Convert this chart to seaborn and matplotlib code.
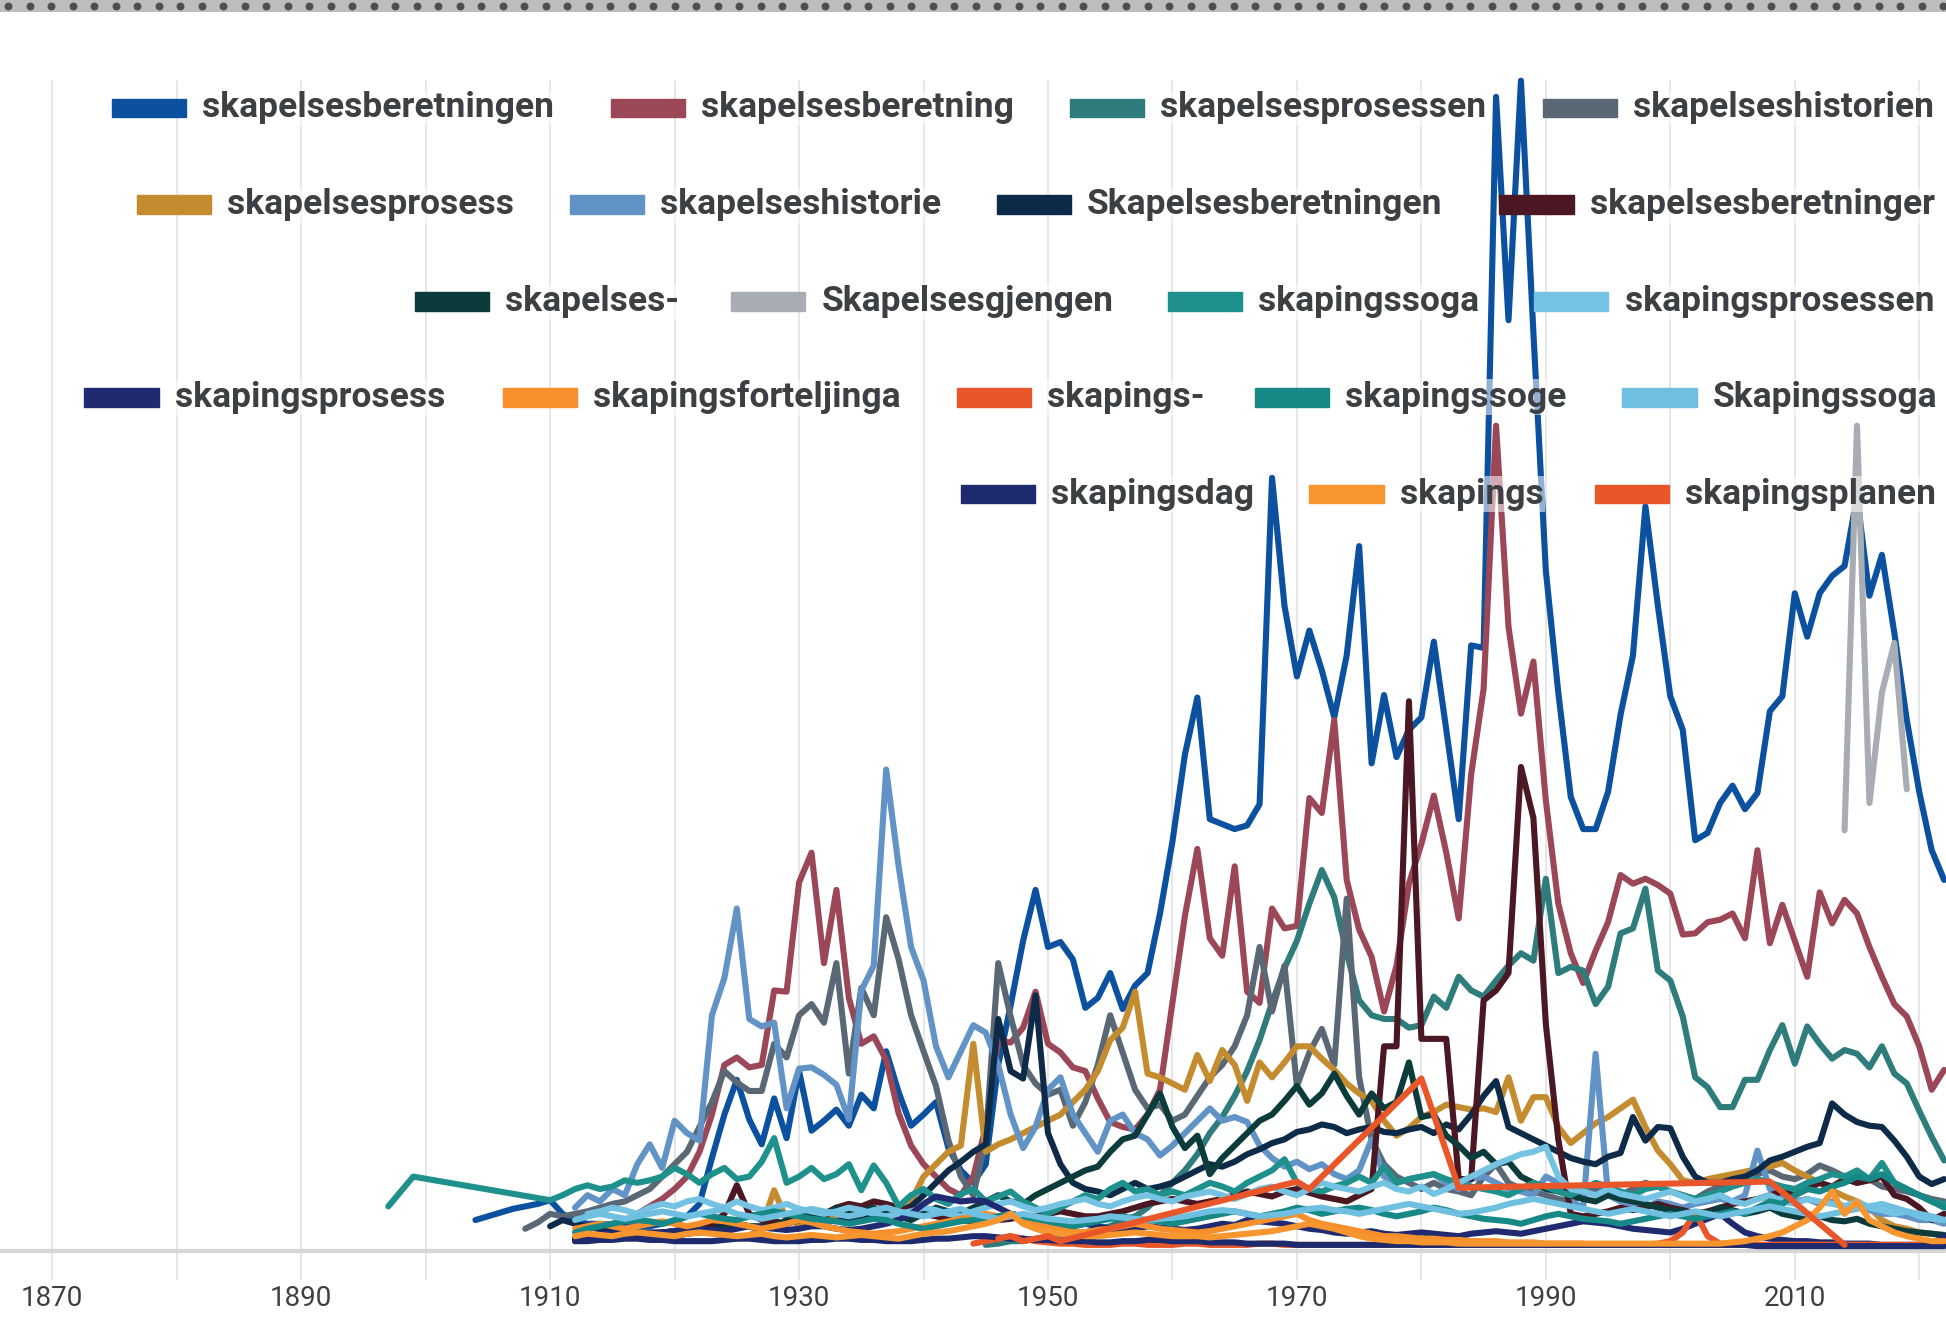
import numpy as np
import pandas as pd
import matplotlib
matplotlib.use("Agg")
import matplotlib.pyplot as plt
import seaborn as sns

# ---- data (relative frequency index) ----
beretningen_years = list(range(1904, 2023))
beretningen = [25, 28, 31, 34, 36, 38, 41, 30, 24, 22,
               22, 21, 20, 20, 20, 22, 24, 28, 38, 75,
               110, 138, 106, 86, 123, 91, 145, 97, 105, 114,
               101, 126, 115, 161, 128, 101, 110, 120, 83, 65,
               55, 70, 150, 198, 250, 291, 245, 249, 235, 196,
               204, 224, 195, 214, 224, 272, 330, 400, 446, 348,
               344, 340, 343, 360, 623, 520, 463, 500, 468, 430,
               480, 568, 393, 448, 398, 420, 430, 491, 420, 348,
               488, 486, 930, 750, 943, 740, 548, 450, 366, 340,
               340, 370, 432, 480, 600, 520, 447, 420, 331, 337,
               361, 375, 356, 369, 435, 447, 530, 495, 530, 544,
               552, 608, 528, 561, 498, 428, 370, 323, 299]

beretning_years = list(range(1912, 2023))
beretning = [10, 18, 20, 22, 25, 30, 36, 42, 50, 60,
             80, 110, 150, 156, 148, 150, 210, 209, 297, 321,
             232, 291, 204, 167, 173, 154, 111, 85, 70, 60,
             50, 45, 60, 100, 170, 168, 180, 209, 167, 160,
             148, 145, 123, 104, 100, 98, 110, 130, 200, 270,
             324, 252, 238, 310, 209, 200, 276, 260, 262, 365,
             353, 428, 299, 259, 237, 193, 230, 296, 328, 367,
             321, 268, 384, 453, 665, 503, 433, 475, 363, 280,
             240, 216, 242, 265, 303, 296, 300, 295, 288, 255,
             256, 265, 267, 272, 252, 323, 248, 279, 250, 221,
             289, 264, 283, 272, 245, 221, 199, 189, 165, 130,
             146]

prosessen_years = list(range(1945, 2023))
prosessen = [5, 6, 8, 8, 10, 10, 12, 14, 15, 18,
             20, 25, 28, 35, 45, 55, 65, 78, 95, 108,
             125, 145, 170, 200, 228, 250, 280, 307, 285, 240,
             202, 190, 187, 187, 180, 182, 205, 196, 221, 210,
             205, 218, 230, 240, 234, 300, 224, 229, 226, 199,
             213, 256, 260, 292, 226, 218, 189, 140, 132, 116,
             116, 138, 138, 162, 182, 151, 181, 167, 155, 162,
             159, 148, 165, 143, 135, 113, 92, 73]

historien_years = list(range(1908, 2023))
historien = [18, 23, 30, 28, 30, 32, 35, 38, 40, 45,
             50, 60, 70, 80, 100, 120, 145, 136, 129, 129,
             167, 156, 190, 199, 184, 232, 143, 212, 190, 269,
             235, 190, 161, 133, 89, 60, 45, 90, 232, 189,
             150, 135, 126, 130, 101, 120, 150, 190, 160, 130,
             115, 118, 105, 110, 125, 140, 150, 165, 190, 245,
             193, 230, 133, 160, 179, 150, 284, 140, 90, 70,
             60, 55, 50, 55, 50, 48, 45, 60, 70, 55,
             50, 48, 45, 42, 40, 45, 50, 48, 45, 50,
             55, 52, 48, 45, 42, 48, 52, 55, 58, 62,
             65, 60, 58, 62, 69, 65, 60, 55, 58, 52,
             50, 48, 45, 42, 40]

prosess_years = list(range(1925, 2023))
prosess = [10, 12, 20, 49, 25, 22, 25, 30, 28, 25,
           30, 32, 30, 35, 40, 60, 70, 80, 85, 167,
           80, 86, 90, 95, 100, 105, 110, 120, 130, 145,
           170, 180, 209, 143, 140, 135, 130, 158, 137, 162,
           150, 121, 152, 140, 152, 165, 165, 155, 146, 135,
           127, 121, 105, 93, 99, 108, 112, 118, 116, 114,
           115, 112, 140, 105, 124, 124, 100, 87, 95, 103,
           108, 115, 122, 100, 81, 70, 57, 55, 58, 60,
           62, 64, 66, 68, 71, 65, 60, 55, 49, 44,
           40, 35, 25, 20, 18, 15, 14, 12]

historie_years = list(range(1912, 2023))
historie = [35, 45, 40, 50, 45, 70, 86, 67, 105, 95,
            89, 190, 220, 276, 187, 181, 184, 115, 147, 148,
            142, 134, 106, 210, 230, 388, 310, 245, 218, 165,
            140, 161, 182, 176, 150, 110, 83, 100, 130, 140,
            110, 95, 80, 105, 110, 95, 90, 77, 85, 95,
            105, 115, 105, 108, 104, 85, 75, 68, 72, 66,
            70, 62, 58, 65, 90, 60, 55, 58, 60, 62,
            55, 50, 58, 60, 55, 50, 48, 45, 60, 55,
            40, 35, 159, 45, 40, 38, 35, 40, 38, 35,
            38, 40, 42, 40, 45, 81, 50, 45, 40, 42,
            38, 40, 36, 35, 33, 30, 30, 28, 25, 25,
            22]

cap_beretningen_years = list(range(1910, 2023))
cap_beretningen = [20, 25, 22, 20, 18, 16, 15, 15, 15, 15,
                   16, 18, 20, 20, 22, 22, 20, 20, 22, 22,
                   25, 24, 25, 24, 26, 25, 28, 30, 32, 36,
                   45, 55, 65, 72, 80, 86, 187, 145, 139, 206,
                   95, 70, 55, 50, 48, 45, 50, 55, 50, 52,
                   55, 60, 65, 70, 68, 72, 78, 82, 87, 90,
                   96, 98, 102, 100, 95, 98, 100, 96, 95, 98,
                   100, 95, 102, 98, 110, 125, 137, 100, 95, 90,
                   85, 80, 75, 72, 70, 76, 79, 108, 89, 100,
                   99, 76, 60, 55, 55, 58, 60, 65, 73, 76,
                   80, 84, 87, 119, 110, 104, 101, 100, 89, 76,
                   60, 54, 58]

beretninger_years = list(range(1912, 2023))
beretninger = [8, 10, 12, 12, 12, 13, 14, 15, 16, 18,
               20, 22, 30, 53, 30, 25, 24, 22, 25, 28,
               30, 35, 38, 36, 40, 38, 35, 33, 30, 28,
               26, 25, 24, 24, 25, 26, 28, 28, 30, 32,
               30, 28, 28, 30, 32, 35, 38, 40, 42, 40,
               38, 40, 42, 45, 48, 46, 44, 48, 50, 47,
               44, 42, 40, 45, 50, 165, 165, 443, 171, 171,
               171, 58, 58, 202, 210, 224, 390, 349, 183, 90,
               30, 28, 30, 32, 35, 33, 35, 38, 35, 33,
               30, 32, 35, 38, 40, 42, 45, 48, 45, 50,
               55, 52, 58, 55, 57, 60, 45, 42, 35, 25,
               30]

bindestrek_years = list(range(1912, 2023))
bindestrek = [10, 12, 12, 12, 12, 12, 12, 12, 12, 14,
              15, 16, 18, 22, 20, 18, 20, 25, 28, 30,
              28, 35, 30, 32, 35, 30, 28, 25, 30, 35,
              32, 30, 35, 40, 45, 40, 38, 45, 50, 55,
              60, 65, 68, 80, 90, 93, 110, 127, 100, 83,
              93, 62, 75, 85, 95, 105, 110, 121, 133, 118,
              127, 143, 125, 110, 127, 115, 120, 152, 108, 110,
              93, 85, 75, 80, 70, 72, 60, 55, 50, 48,
              45, 42, 40, 45, 42, 40, 38, 35, 33, 32,
              30, 31, 35, 33, 30, 32, 35, 30, 28, 26,
              28, 25, 24, 26, 22, 20, 18, 16, 15, 14,
              13]

gjengen_years = [2014, 2015, 2016, 2017, 2018, 2019]
gjengen = [339, 665, 361, 450, 490, 372]

soga_years = [1897, 1899] + list(range(1910, 2023))
soga = [36, 60,
        41, 45, 50, 53, 50, 52, 57, 55, 57, 60,
        67, 62, 55, 62, 67, 58, 60, 72, 91, 55,
        60, 67, 58, 62, 70, 49, 69, 55, 36, 45,
        50, 42, 38, 46, 50, 40, 44, 48, 40, 35,
        30, 35, 40, 45, 42, 50, 55, 48, 50, 45,
        48, 45, 50, 55, 52, 48, 55, 60, 65, 74,
        55, 50, 48, 52, 55, 60, 55, 68, 55, 58,
        60, 62, 58, 55, 52, 50, 48, 45, 50, 55,
        52, 48, 45, 50, 55, 52, 48, 45, 50, 52,
        48, 45, 42, 45, 48, 52, 55, 58, 55, 52,
        50, 55, 58, 62, 60, 65, 58, 71, 55, 50,
        45, 40, 38]

sk_prosessen_years = list(range(1913, 2023))
sk_prosessen = [30, 32, 35, 33, 30, 35, 38, 36, 40, 42,
                38, 35, 40, 36, 33, 35, 38, 34, 32, 30,
                32, 35, 33, 30, 28, 30, 32, 35, 33, 30,
                28, 32, 35, 38, 40, 36, 33, 35, 38, 40,
                42, 38, 36, 40, 43, 45, 42, 40, 44, 46,
                48, 45, 42, 46, 50, 52, 48, 45, 50, 55,
                52, 50, 48, 52, 55, 50, 48, 52, 46, 50,
                55, 60, 65, 70, 74, 78, 80, 84, 60, 50,
                48, 45, 50, 46, 44, 42, 45, 48, 44, 40,
                42, 45, 40, 38, 42, 45, 40, 38, 42, 40,
                38, 36, 40, 35, 33, 30, 32, 28, 26, 25]

sk_prosess_years = list(range(1912, 2023))
sk_prosess = [10, 12, 14, 15, 16, 15, 14, 15, 16, 18,
              18, 17, 16, 18, 20, 19, 18, 17, 18, 20,
              20, 18, 17, 18, 20, 22, 25, 30, 38, 44,
              42, 40, 41, 40, 35, 30, 28, 25, 22, 20,
              20, 22, 20, 18, 17, 18, 20, 19, 18, 17,
              18, 20, 22, 21, 25, 24, 23, 22, 20, 18,
              17, 15, 14, 15, 16, 14, 13, 14, 15, 14,
              13, 12, 14, 15, 16, 15, 14, 16, 18, 20,
              22, 24, 23, 22, 20, 18, 17, 16, 15, 18,
              22, 26, 30, 22, 15, 12, 10, 9, 8, 8,
              7, 7, 6, 6, 6, 5, 5, 5, 5, 5, 12]

forteljinga_years = list(range(1912, 2023))
forteljinga = [18, 20, 22, 20, 18, 20, 22, 24, 22, 20,
               22, 25, 24, 22, 20, 18, 20, 22, 25, 23,
               20, 18, 16, 15, 14, 15, 16, 18, 20, 22,
               24, 26, 28, 30, 28, 30, 26, 22, 20, 18,
               16, 15, 17, 18, 20, 22, 20, 18, 17, 16,
               15, 16, 18, 20, 22, 24, 26, 28, 30, 25,
               22, 20, 18, 16, 14, 12, 12, 11, 10, 10,
               9, 9, 8, 8, 8, 7, 7, 7, 6, 6,
               6, 6, 5, 5, 5, 5, 5, 5, 5, 5,
               5, 5, 5, 5, 5, 5, 5, 5, 5, 5,
               5, 5, 5, 5, 5, 5, 5, 5, 5, 5, 5]

sk_bindestrek_years = list(range(1944, 2023))
sk_bindestrek = [6, 8, 10, 12, 10, 8, 7, 6, 6, 5,
                 5, 5, 6, 6, 5, 5, 5, 6, 6, 5,
                 5, 5, 5, 6, 6, 5, 5, 5, 5, 5,
                 5, 5, 5, 5, 6, 6, 5, 5, 5, 5,
                 5, 5, 5, 5, 5, 5, 5, 5, 5, 5,
                 5, 5, 5, 5, 5, 6, 8, 15, 31, 12,
                 6, 5, 5, 5, 5, 5, 5, 5, 5, 5,
                 5, 5, 5, 5, 5, 5, 5, 5, 5]

soge_years = list(range(1912, 2023))
soge = [15, 18, 20, 22, 24, 25, 24, 22, 25, 28,
        30, 28, 26, 25, 28, 30, 32, 30, 28, 26,
        25, 24, 22, 24, 26, 25, 22, 20, 18, 20,
        22, 24, 25, 26, 28, 30, 28, 26, 24, 22,
        20, 22, 24, 26, 28, 26, 25, 24, 22, 24,
        26, 28, 30, 32, 30, 28, 30, 32, 35, 33,
        30, 32, 34, 35, 33, 30, 28, 30, 32, 35,
        33, 30, 28, 26, 25, 24, 22, 25, 28, 30,
        28, 26, 25, 24, 22, 24, 26, 28, 30, 28,
        26, 28, 30, 32, 30, 35, 40, 38, 45, 50,
        48, 52, 55, 60, 58, 62, 55, 50, 45, 40, 35]

cap_soga_years = list(range(1912, 2023))
cap_soga = [25, 28, 30, 28, 26, 28, 30, 32, 30, 28,
            30, 32, 34, 30, 28, 26, 28, 30, 32, 34,
            32, 30, 28, 30, 33, 35, 32, 30, 28, 30,
            32, 34, 30, 28, 26, 28, 30, 28, 26, 25,
            24, 25, 26, 28, 27, 26, 25, 26, 27, 28,
            30, 32, 33, 32, 30, 28, 29, 30, 32, 34,
            35, 33, 32, 30, 32, 34, 36, 38, 36, 34,
            32, 30, 31, 33, 35, 38, 40, 42, 40, 38,
            36, 34, 32, 30, 32, 34, 32, 30, 28, 30,
            32, 30, 28, 30, 32, 34, 36, 34, 32, 30,
            28, 30, 32, 34, 36, 38, 35, 32, 30, 28, 25]

dag_years = list(range(1912, 2023))
dag = [8, 8, 9, 9, 10, 10, 9, 9, 8, 8,
       8, 8, 9, 10, 10, 9, 8, 8, 8, 9,
       9, 10, 10, 9, 9, 8, 8, 8, 9, 10,
       10, 11, 12, 12, 11, 10, 10, 9, 9, 8,
       8, 8, 7, 7, 8, 8, 9, 9, 8, 8,
       8, 7, 7, 7, 6, 6, 6, 6, 5, 5,
       5, 5, 5, 5, 5, 5, 5, 5, 5, 5,
       5, 5, 5, 5, 5, 5, 5, 5, 5, 5,
       5, 5, 5, 5, 5, 5, 5, 5, 5, 5,
       5, 5, 5, 5, 5, 4, 4, 4, 4, 4,
       4, 4, 4, 4, 4, 4, 4, 4, 4, 4, 4]

skapings_years = list(range(1912, 2023))
skapings = [12, 14, 13, 12, 14, 15, 14, 13, 12, 14,
            15, 14, 13, 12, 13, 14, 12, 11, 12, 13,
            12, 11, 12, 13, 12, 11, 10, 12, 14, 15,
            16, 18, 20, 22, 25, 30, 22, 18, 15, 14,
            13, 12, 12, 13, 14, 15, 14, 13, 12, 12,
            12, 11, 12, 13, 14, 15, 16, 18, 20, 22,
            20, 18, 15, 12, 10, 9, 8, 8, 7, 7,
            7, 6, 6, 6, 6, 6, 6, 6, 6, 6,
            6, 6, 6, 6, 6, 6, 6, 6, 6, 6,
            6, 6, 6, 7, 8, 10, 12, 15, 20, 25,
            35, 48, 30, 40, 25, 20, 15, 12, 10, 8, 8]

planen_years = [1946, 1947, 1948, 1949, 1950, 1951, 1970, 1971, 1980, 1983, 2008, 2014]
planen = [10, 12, 8, 10, 12, 8, 56, 50, 139, 51, 56, 5]

# legend rows as in the reference
series = [
    ("skapelsesberetningen", "#0b51a0", beretningen_years, beretningen),
    ("skapelsesberetning", "#9b4757", beretning_years, beretning),
    ("skapelsesprosessen", "#2f7c7c", prosessen_years, prosessen),
    ("skapelseshistorien", "#5a6875", historien_years, historien),
    ("skapelsesprosess", "#c48c2e", prosess_years, prosess),
    ("skapelseshistorie", "#6193c6", historie_years, historie),
    ("Skapelsesberetningen", "#0d2b48", cap_beretningen_years, cap_beretningen),
    ("skapelsesberetninger", "#4a1722", beretninger_years, beretninger),
    ("skapelses-", "#0c3b3b", bindestrek_years, bindestrek),
    ("Skapelsesgjengen", "#a7adb3", gjengen_years, gjengen),
    ("skapingssoga", "#1f918c", soga_years, soga),
    ("skapingsprosessen", "#74c3e3", sk_prosessen_years, sk_prosessen),
    ("skapingsprosess", "#1f2a70", sk_prosess_years, sk_prosess),
    ("skapingsforteljinga", "#f68f2c", forteljinga_years, forteljinga),
    ("skapings-", "#e8562a", sk_bindestrek_years, sk_bindestrek),
    ("skapingssoge", "#168886", soge_years, soge),
    ("Skapingssoga", "#6fc0e0", cap_soga_years, cap_soga),
    ("skapingsdag", "#1d2a6e", dag_years, dag),
    ("skapings", "#f7952f", skapings_years, skapings),
    ("skapingsplanen", "#e8562a", planen_years, planen),
]

legend_rows = [
    (0.081, [90, 492, 862, 1243]),
    (0.1536, [110, 459, 803, 1208]),
    (0.2263, [334, 589, 941, 1236]),
    (0.298, [68, 405, 771, 1011, 1307]),
    (0.3706, [774, 1055, 1285]),
]

frames = []
for name, color, yrs, vals in series:
    frames.append(pd.DataFrame({"term": name, "year": yrs, "freq": vals}))
df = pd.concat(frames, ignore_index=True)
terms = [s[0] for s in series]
palette = {s[0]: s[1] for s in series}

sns.set_style("white")
plt.rcParams["font.family"] = ["Roboto", "DejaVu Sans"]

fig = plt.figure(figsize=(19.46, 13.33), dpi=100)
ax = fig.add_axes([0, 0.04004, 1, 0.95065])

# decade gridlines and baseline
for yr in range(1870, 2030, 10):
    ax.axvline(yr, ymin=0, ymax=0.946, color="#e6e6e6", lw=1.4, zorder=0)
ax.axhline(0, color="#d6d6d6", lw=3, zorder=0.5)

sns.lineplot(data=df, x="year", y="freq", hue="term", hue_order=terms,
             palette=palette, estimator=None, legend=False,
             linewidth=4.4, ax=ax, zorder=2)

ax.set_xlim(1865.8, 2022.15)
ax.set_ylim(-23, 998)
ax.set_xticks(range(1870, 2011, 20))
ax.set_xticklabels([str(y) for y in range(1870, 2011, 20)],
                   fontsize=20, color="#3c4043")
ax.tick_params(axis="x", length=0, pad=4)
ax.set_yticks([])
ax.set_xlabel("")
ax.set_ylabel("")
for sp in ax.spines.values():
    sp.set_visible(False)

# legend drawn over the plot, like the screenshot
name_iter = iter(series)
for row_y, xs in legend_rows:
    for x0 in xs:
        name, color, _, _ = next(name_iter)
        fx = x0 / 1568
        fig.patches.append(plt.Rectangle((fx, 1 - row_y - 0.007), 60 / 1568, 0.014,
                                         transform=fig.transFigure, color=color,
                                         zorder=5))
        fig.text(fx + 73 / 1568, 1 - row_y, name, fontsize=25.5, fontweight="bold",
                 color="#3c4043", va="center", ha="left", zorder=6,
                 bbox=dict(facecolor="white", alpha=0.55, edgecolor="none", pad=1))

# dotted strip at the top edge
top = fig.add_axes([0, 1 - 12 / 1333, 1, 12 / 1333])
top.set_facecolor("#bdbdbd")
dots_x = np.arange(8, 1946, 21.5)
top.scatter(dots_x, np.full(len(dots_x), 0.5), s=22, color="#4f4f4f")
top.set_xlim(0, 1946)
top.set_ylim(0, 1)
top.axis("off")
top.add_patch(plt.Rectangle((0, 0), 1946, 1, color="#bdbdbd", zorder=0))

fig.savefig("out.png", dpi=100)
